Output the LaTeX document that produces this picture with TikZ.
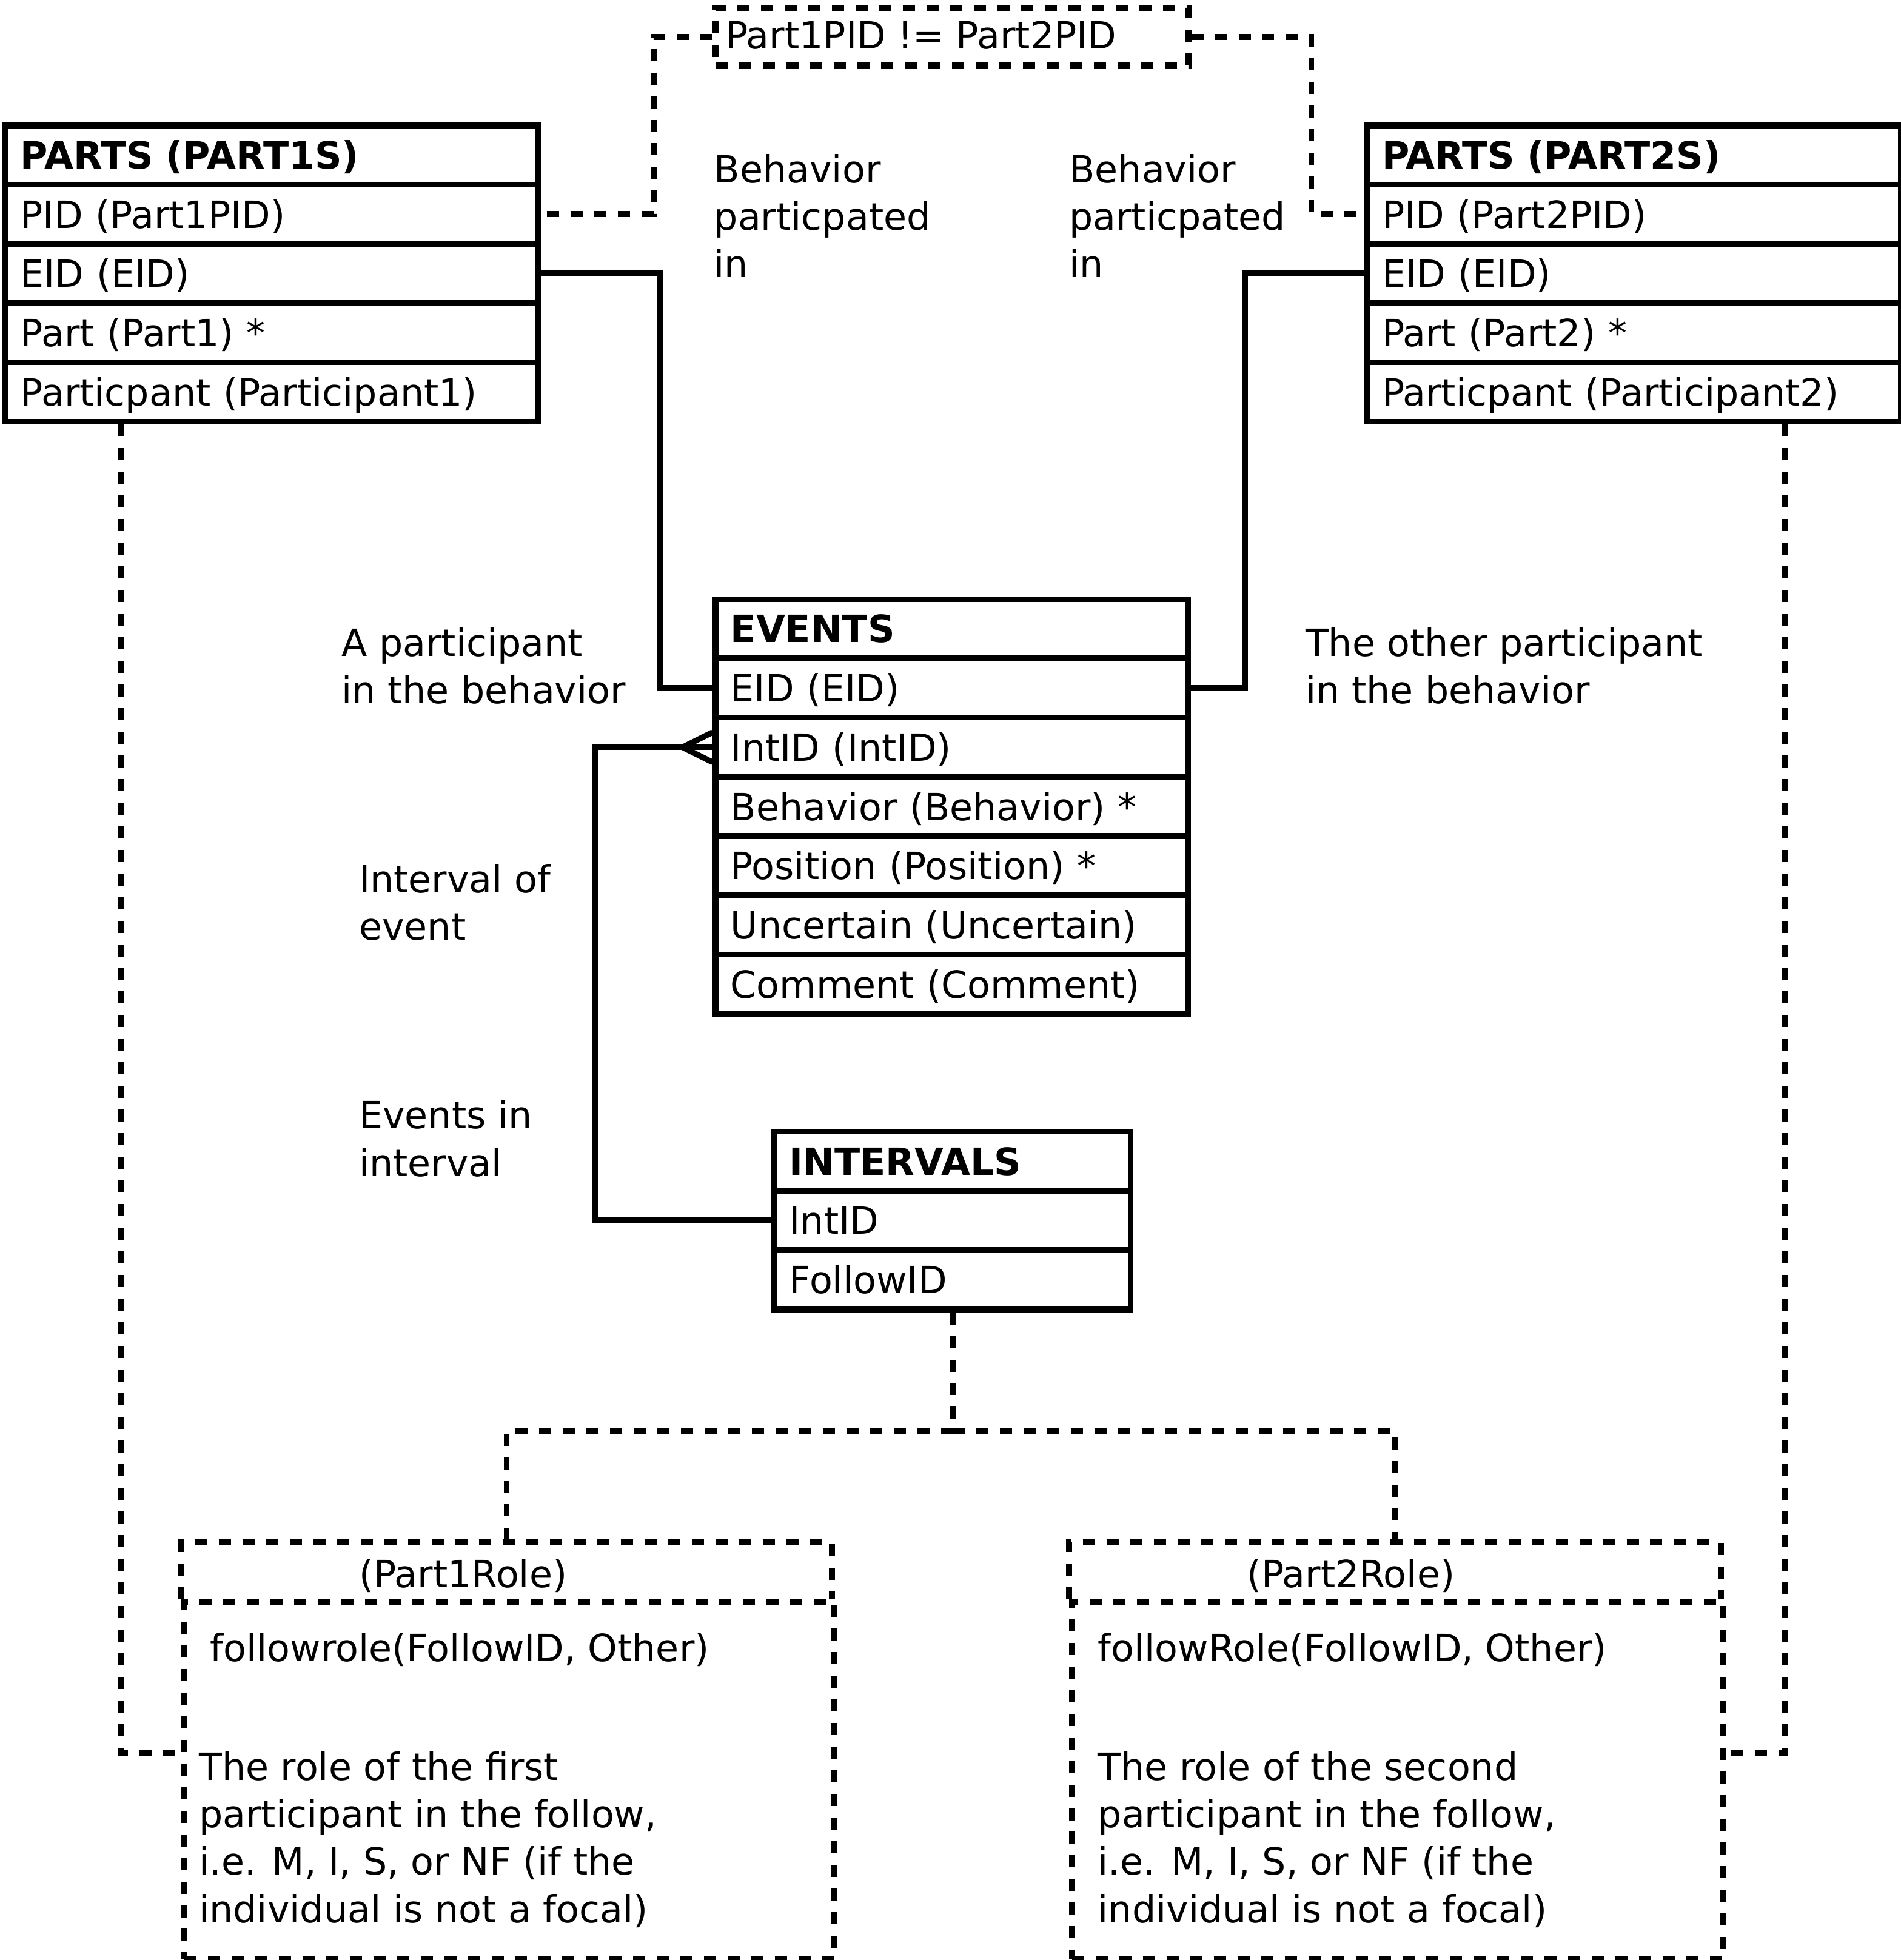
\documentclass[tikz,border=0pt]{standalone}
\usepackage{fontspec}
\setmainfont{DejaVu Sans}
\begin{document}
\begin{tikzpicture}[x=1pt,y=-1pt,line join=miter,
  every node/.style={font=\fontsize{30}{38}\selectfont},
  row/.style={draw,line width=4.6pt,rectangle,anchor=north west,inner xsep=12pt,inner ysep=0pt,
     minimum height=47.4pt,text height=22pt,text depth=0pt,align=left},
  conn/.style={line width=4.6pt},
  dconn/.style={line width=4.8pt,dash pattern=on 9.7pt off 9.2pt},
  dbox/.style={draw,line width=4.8pt,dash pattern=on 9.7pt off 9.2pt,rectangle,anchor=north west,inner sep=0pt},
  hbox/.style={draw=none,rectangle,anchor=north west,inner sep=0pt},
  lbl/.style={anchor=base west,inner sep=0pt,align=left}]
\useasboundingbox (0,0) rectangle (1520,1568);
% PARTS (PART1S)
\node[row,minimum width=426pt,text width=402pt] (p1h) at (2,98.0) {\bfseries PARTS (PART1S)};
\node[row,minimum width=426pt,text width=402pt] (p1pid) at (2,145.4) {PID (Part1PID)};
\node[row,minimum width=426pt,text width=402pt] (p1eid) at (2,192.8) {EID (EID)};
\node[row,minimum width=426pt,text width=402pt] (p1part) at (2,240.2) {Part (Part1) *};
\node[row,minimum width=426pt,text width=402pt] (p1pp) at (2,287.6) {Particpant (Participant1)};
% PARTS (PART2S)
\node[row,minimum width=427pt,text width=403pt] (p2h) at (1091,98.0) {\bfseries PARTS (PART2S)};
\node[row,minimum width=427pt,text width=403pt] (p2pid) at (1091,145.4) {PID (Part2PID)};
\node[row,minimum width=427pt,text width=403pt] (p2eid) at (1091,192.8) {EID (EID)};
\node[row,minimum width=427pt,text width=403pt] (p2part) at (1091,240.2) {Part (Part2) *};
\node[row,minimum width=427pt,text width=403pt] (p2pp) at (1091,287.6) {Particpant (Participant2)};
% EVENTS
\node[row,minimum width=378pt,text width=354pt] (eh) at (570,477.0) {\bfseries EVENTS};
\node[row,minimum width=378pt,text width=354pt] (eeid) at (570,524.4) {EID (EID)};
\node[row,minimum width=378pt,text width=354pt] (eint) at (570,571.8) {IntID (IntID)};
\node[row,minimum width=378pt,text width=354pt] (ebeh) at (570,619.2) {Behavior (Behavior) *};
\node[row,minimum width=378pt,text width=354pt] (epos) at (570,666.6) {Position (Position) *};
\node[row,minimum width=378pt,text width=354pt] (eunc) at (570,714.0) {Uncertain (Uncertain)};
\node[row,minimum width=378pt,text width=354pt] (ecom) at (570,761.4) {Comment (Comment)};
% INTERVALS
\node[row,minimum width=285pt,text width=261pt] (ih) at (617,903.0) {\bfseries INTERVALS};
\node[row,minimum width=285pt,text width=261pt] (iint) at (617,950.4) {IntID};
\node[row,minimum width=285pt,text width=261pt] (ifol) at (617,997.8) {FollowID};
% constraint box
\node[dbox,minimum width=378pt,minimum height=46pt] (cons) at (570,4) {};
\node[lbl] (const) at (580,39) {Part1PID != Part2PID};
% role boxes
\node[hbox,minimum width=520pt,minimum height=45pt] (r1h) at (145,1234) {};
\node[dbox,minimum width=520pt,minimum height=286pt] (r1b) at (145,1279) {};
\node[hbox,minimum width=521pt,minimum height=45pt] (r2h) at (855,1234) {};
\node[dbox,minimum width=521pt,minimum height=286pt] (r2b) at (855,1279) {};
\draw[dconn] (r1h.south west) |- (r1h.north east) -- (r1h.south east);
\draw[dconn] (r2h.south west) |- (r2h.north east) -- (r2h.south east);
\node[lbl] (r1ht) at (287,1270) {(Part1Role)};
\node[lbl] (r2ht) at (997,1270) {(Part2Role)};
\node[lbl] (r1f) at (168,1329) {followrole(FollowID, Other)};
\node[lbl] (r2f) at (878,1329) {followRole(FollowID, Other)};
\node[lbl] (r1d) at (159,1538) {The role of the first\\participant in the follow,\\i.e. M, I, S, or NF (if the\\individual is not a focal)};
\node[lbl] (r2d) at (878,1538) {The role of the second\\participant in the follow,\\i.e. M, I, S, or NF (if the\\individual is not a focal)};
% labels
\node[lbl] (lb1) at (571,222) {Behavior\\particpated\\in};
\node[lbl] (lb2) at (855,222) {Behavior\\particpated\\in};
\node[lbl] (la) at (273,563) {A participant\\in the behavior};
\node[lbl] (lo) at (1044,563) {The other participant\\in the behavior};
\node[lbl] (li) at (287,752) {Interval of\\event};
\node[lbl] (le) at (287,941) {Events in\\interval};
% solid connectors
\draw[conn] (p1eid.east) -- ++(95,0) |- (eeid.west);
\draw[conn] (p2eid.west) -- ++(-95,0) |- (eeid.east);
\draw[conn] (iint.west) -- ++(-141,0) |- (eint.west);
\draw[conn] ([yshift=12pt]eint.west) -- ([xshift=-24pt]eint.west) -- ([yshift=-12pt]eint.west);
% dashed connectors
\draw[dconn] (cons.west) -- ++(-47,0) |- (p1pid.east);
\draw[dconn] (cons.east) -- ++(96,0) |- (p2pid.west);
\draw[dconn] ([xshift=95pt]p1pp.south west) |- ([yshift=22pt]r1b.west);
\draw[dconn] ([xshift=-95pt]p2pp.south east) |- ([yshift=22pt]r2b.east);
\draw[dconn] (ifol.south) -- ++(0,95) coordinate (fork) -| (r1h.north);
\draw[dconn] (fork) -| (r2h.north);
\end{tikzpicture}
\end{document}
